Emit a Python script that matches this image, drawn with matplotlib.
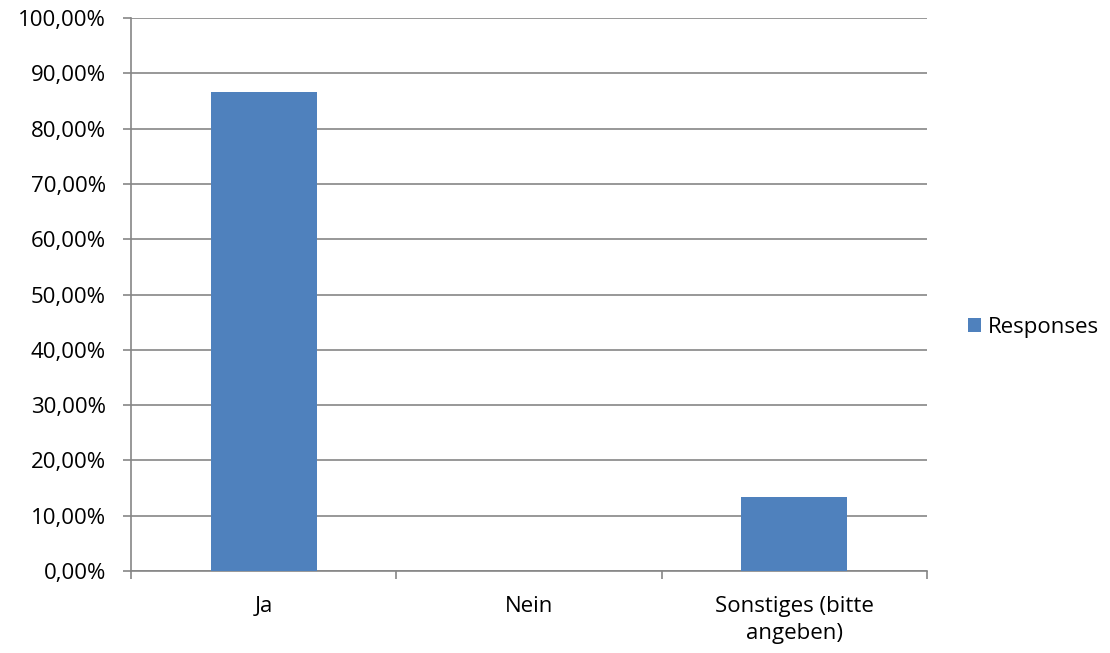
import numpy as np
import matplotlib
matplotlib.use("Agg")
import matplotlib.pyplot as plt
from matplotlib.ticker import FuncFormatter, FixedLocator

categories = ["Ja", "Nein", "Sonstiges (bitte\nangeben)"]
responses = [86.67, 0.0, 13.33]
series_name = "Responses"

plt.rcParams["font.family"] = ["Open Sans", "DejaVu Sans"]
FS = 16

fig = plt.figure(figsize=(11.1, 6.53), dpi=100)
ax = fig.add_axes([131 / 1110, 1 - 571 / 653, (927 - 131) / 1110, (571 - 18) / 653])

x = np.arange(len(categories))
ax.bar(x, responses, width=0.4, color="#4f81bd", label=series_name, zorder=3)

ax.set_xlim(-0.5, len(categories) - 0.5)
ax.set_ylim(0, 100)
ax.set_yticks(np.arange(0, 101, 10))
ax.yaxis.set_major_formatter(FuncFormatter(lambda v, _: f"{v:.2f}%".replace(".", ",")))
ax.grid(axis="y", color="#868686", linewidth=1.2, zorder=0)

ax.set_xticks(x)
ax.set_xticklabels(categories, fontsize=FS, linespacing=1.35)
ax.tick_params(axis="x", length=0, pad=18)
ax.xaxis.set_minor_locator(FixedLocator(np.arange(-0.5, len(categories), 1.0)))
ax.tick_params(axis="x", which="minor", length=6, color="#868686", width=1.2)
ax.tick_params(axis="y", length=6, color="#868686", width=1.2, labelsize=FS, pad=12)

for side in ["top", "right"]:
    ax.spines[side].set_visible(False)
for side in ["left", "bottom"]:
    ax.spines[side].set_color("#868686")
    ax.spines[side].set_linewidth(1.2)

ax.legend(loc="center left", bbox_to_anchor=(1.051, 0.44), frameon=False,
          borderaxespad=0, borderpad=0,
          fontsize=FS, handlelength=0.6, handleheight=0.6, handletextpad=0.3)

fig.savefig("out.png", dpi=100)
